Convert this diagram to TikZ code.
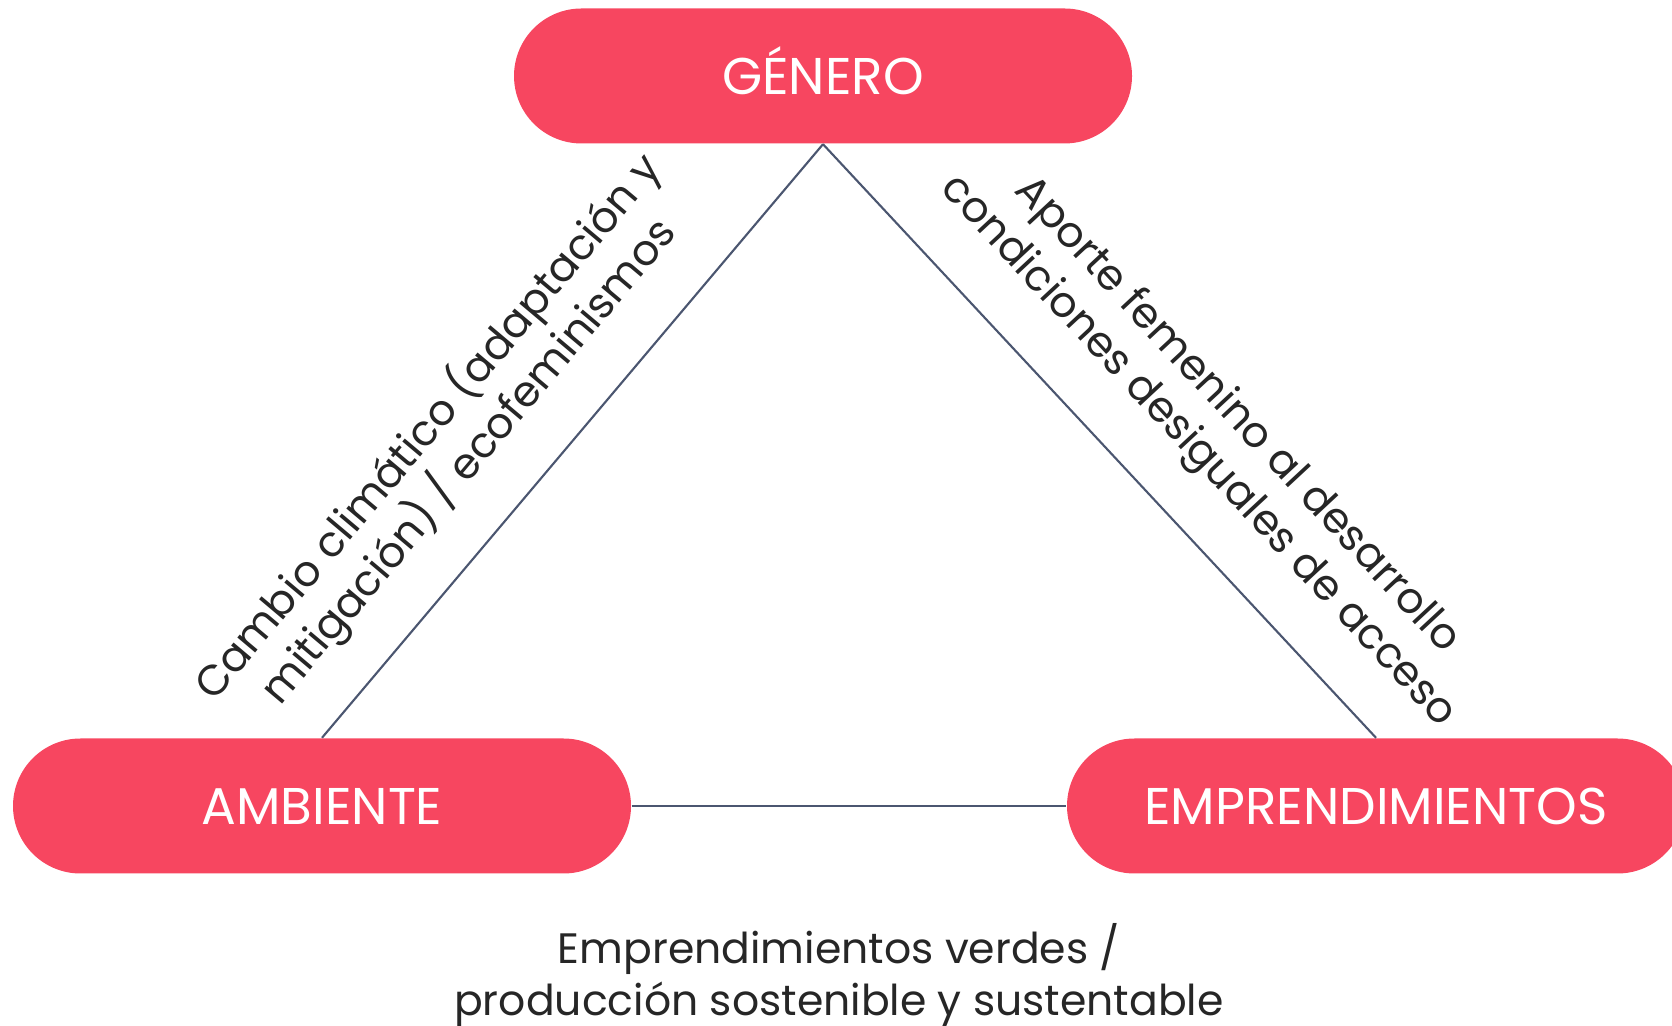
\documentclass[tikz,border=0pt]{standalone}
\usepackage{fontspec}
\setmainfont{Poppins}
\usepackage{tikz}
\usetikzlibrary{calc}
\definecolor{rosa}{HTML}{F74660}
\definecolor{linea}{HTML}{4B5670}
\definecolor{texto}{HTML}{262626}
\tikzset{
  caja/.style={fill=rosa, draw=none, rounded corners=0.675cm, minimum width=6.18cm, minimum height=1.35cm, text=white, text height=10.3pt, text depth=0pt, font=\fontsize{14.7}{17}\selectfont},
  conector/.style={draw=linea, line width=0.6pt},
  lab/.style={text=texto, align=center, font=\fontsize{12.1}{15}\selectfont},
}
\begin{document}
\begin{tikzpicture}
  \useasboundingbox (0,0) rectangle (16.72,10.25);

  \node[caja] (gen) at (8.23,9.49) {GÉNERO};
  \node[caja] (amb) at (3.22,2.19) {AMBIENTE};
  \node[caja] (emp) at (13.76,2.19) {EMPRENDIMIENTOS};

  \draw[conector] (gen.south) -- (amb.north);
  \draw[conector] (gen.south) -- (emp.north);
  \draw[conector] (amb.east) -- (emp.west);

  % etiquetas a lo largo de los lados
  \node[lab, rotate=49.9] (clima) at (4.48,5.81) {Cambio climático (adaptación y\\mitigación) / ecofeminismos};
  \node[lab, rotate=-47.1] (aporte) at (12.17,5.91) {Aporte femenino al desarrollo\\condiciones desiguales de acceso};
  \node[lab] (verde) at (8.39,0.5) {Emprendimientos verdes /\\producción sostenible y sustentable};
\end{tikzpicture}
\end{document}
